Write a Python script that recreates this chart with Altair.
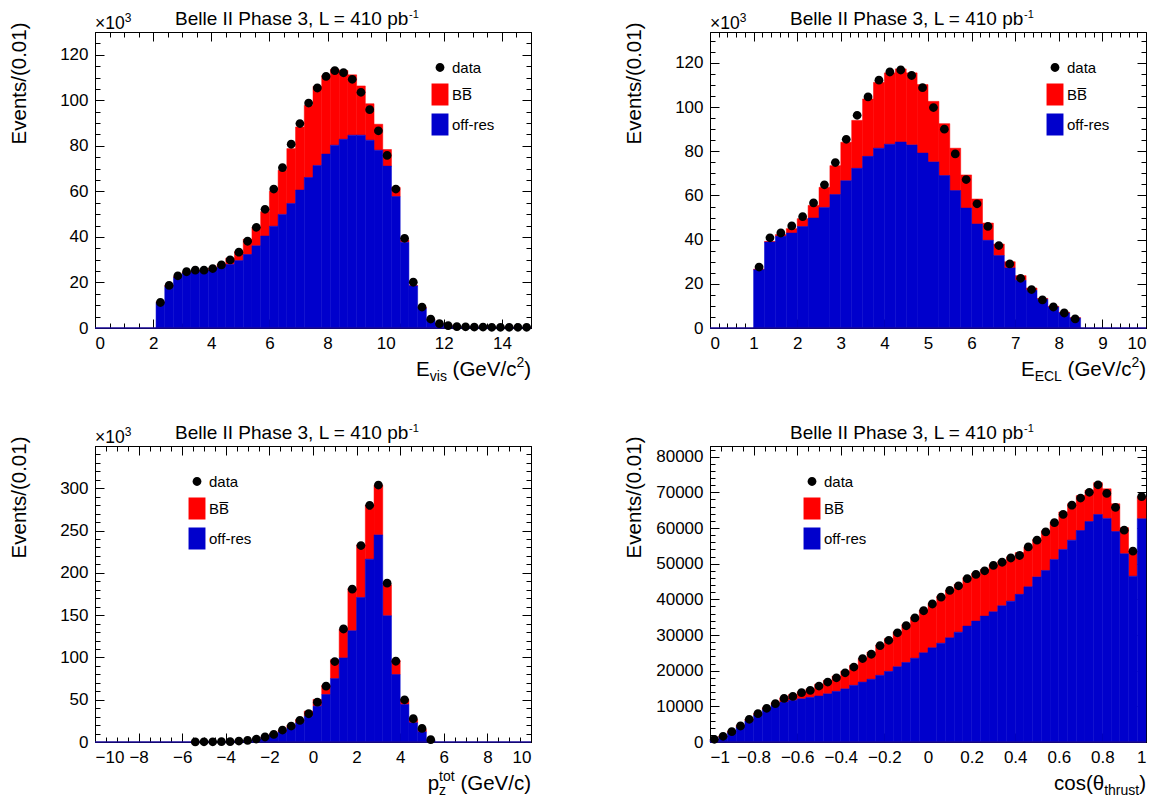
import altair as alt
import pandas as pd

FONT = "Liberation Sans"
RED = "#ff0000"
BLUE = "#0000cc"
SERIES = ["data", "BB\u0305", "off-res"]
TITLE_MAIN = "Belle II Phase 3, L = 410 pb"
TITLE_SUP = "-1"
Y_TITLE = "Events/(0.01)"
X10_MAIN = "\u00d710"
X10_SUP = "3"

# ---------------- Panel 1 : E_vis (x10^3 events), bin width 0.3 ----------------
evis_lo = [2.1, 2.4, 2.7, 3.0, 3.3, 3.6, 3.9, 4.2, 4.5, 4.8, 5.1, 5.4, 5.7, 6.0, 6.3, 6.6, 6.9,
           7.2, 7.5, 7.8, 8.1, 8.4, 8.7, 9.0, 9.3, 9.6, 9.9, 10.2, 10.5, 10.8, 11.1, 11.4, 11.7,
           12.0, 12.3, 12.6, 12.9, 13.2, 13.5, 13.8, 14.1, 14.4, 14.7]
evis_offres = [11.2, 18.2, 22.2, 24.1, 24.7, 25.0, 25.5, 26.7, 27.9, 29.6, 32.3, 36.1, 40.4, 44.7,
               49.9, 54.7, 60.6, 66.1, 71.4, 76.4, 80.3, 82.9, 84.7, 84.7, 82.5, 78.1, 71.1, 57.7,
               37.7, 18.5, 8.8, 3.6, 1.8, 0.9, 0.5, 0.4, 0.3, 0.3, 0.3, 0.2, 0.2, 0.2, 0.2]
evis_bb = [0.3, 0.5, 0.4, 0.4, 0.4, 0.5, 0.8, 1.3, 2.8, 4.0, 6.7, 8.1, 10.7, 15.4, 19.4, 24.1,
           27.7, 31.7, 34.7, 34.5, 33.3, 30.2, 26.5, 21.6, 16.0, 11.4, 7.3, 4.1, 1.0, 0.2, 0.3,
           0.2, 0.1, 0.1, 0.1, 0.1, 0.1, 0.1, 0.0, 0.1, 0.1, 0.1, 0.1]
evis_data = [11.2, 18.7, 22.9, 24.7, 25.4, 25.4, 26.1, 27.7, 29.9, 33.3, 38.1, 44.2, 52.1, 61.0,
             70.4, 80.7, 89.8, 98.8, 105.4, 110.5, 113.0, 112.1, 109.2, 103.5, 95.9, 86.6, 75.8,
             61.0, 39.4, 20.1, 9.2, 3.9, 1.9, 1.0, 0.6, 0.5, 0.4, 0.4, 0.3, 0.3, 0.3, 0.3, 0.3]

# ---------------- Panel 2 : E_ECL (x10^3 events), bin width 0.25 ----------------
eecl_lo = [1.0, 1.25, 1.5, 1.75, 2.0, 2.25, 2.5, 2.75, 3.0, 3.25, 3.5, 3.75, 4.0, 4.25, 4.5,
           4.75, 5.0, 5.25, 5.5, 5.75, 6.0, 6.25, 6.5, 6.75, 7.0, 7.25, 7.5, 7.75, 8.0, 8.25]
eecl_offres = [26.4, 38.9, 41.5, 43.0, 45.9, 49.8, 54.6, 60.4, 66.7, 72.3, 77.7, 81.4, 83.2, 84.2,
               82.9, 79.2, 75.2, 69.0, 62.2, 54.3, 47.1, 39.7, 32.8, 27.2, 21.6, 17.1, 13.0, 9.5,
               6.8, 4.5]
eecl_bb = [0.3, 0.3, 0.8, 2.0, 3.6, 5.7, 9.1, 13.1, 17.4, 21.7, 26.0, 29.8, 32.3, 33.1, 32.6, 31.0,
           27.4, 23.5, 19.2, 15.0, 11.3, 7.8, 5.2, 2.8, 2.1, 1.0, 0.4, 0.3, 0.3, 0.2]
eecl_data = [27.6, 40.8, 43.0, 46.2, 50.4, 56.6, 64.8, 74.9, 85.4, 96.3, 104.6, 112.2, 115.9, 116.8,
             114.3, 108.8, 99.8, 90.0, 78.8, 67.2, 56.2, 46.0, 37.3, 29.0, 22.5, 17.4, 12.7, 9.5,
             6.8, 4.1]

# ---------------- Panel 3 : p_z^tot (x10^3 events), bin width 0.4 ----------------
pz_lo = [-5.6, -5.2, -4.8, -4.4, -4.0, -3.6, -3.2, -2.8, -2.4, -2.0, -1.6, -1.2, -0.8, -0.4, 0.0,
         0.4, 0.8, 1.2, 1.6, 2.0, 2.4, 2.8, 3.2, 3.6, 4.0, 4.4, 4.8, 5.2]
pz_offres = [0.2, 0.2, 0.3, 0.4, 0.6, 1.0, 1.8, 3.2, 5.3, 8.2, 11.8, 16.9, 22.8, 30.6, 42.4, 56.2,
             75.0, 99.4, 131.6, 170.9, 216.2, 244.9, 149.3, 79.8, 44.4, 22.8, 12.1, 1.9]
pz_bb = [0.0, 0.0, 0.0, 0.0, 0.0, 0.1, 0.1, 0.3, 0.6, 0.8, 2.3, 2.7, 3.9, 5.9, 8.0, 11.0, 22.4,
         34.2, 50.0, 62.2, 64.0, 58.9, 36.6, 16.8, 5.9, 3.9, 2.8, 0.1]
pz_data = [0.1, 0.2, 0.2, 0.4, 0.4, 1.1, 1.9, 3.5, 5.9, 9.0, 14.1, 18.8, 25.5, 33.4, 47.1, 66.0,
           95.1, 133.6, 180.7, 232.3, 279.8, 303.8, 187.8, 95.5, 49.9, 27.5, 16.1, 2.7]

# ---------------- Panel 4 : cos(theta_thrust) (events), bin width 0.04 ----------------
cth_lo = [-1.0, -0.96, -0.92, -0.88, -0.84, -0.8, -0.76, -0.72, -0.68, -0.64, -0.6, -0.56, -0.52,
          -0.48, -0.44, -0.4, -0.36, -0.32, -0.28, -0.24, -0.2, -0.16, -0.12, -0.08, -0.04, 0.0,
          0.04, 0.08, 0.12, 0.16, 0.2, 0.24, 0.28, 0.32, 0.36, 0.4, 0.44, 0.48, 0.52, 0.56, 0.6,
          0.64, 0.68, 0.72, 0.76, 0.8, 0.84, 0.88, 0.92, 0.96]
cth_offres = [550, 1400, 2600, 4200, 5900, 7600, 9100, 10400, 11200, 11700, 12100, 12500, 12900,
              13500, 14200, 14900, 15900, 16800, 17600, 18700, 19800, 21100, 22300, 23500, 25000,
              26400, 27700, 29200, 30800, 32500, 33900, 35300, 36500, 38200, 39500, 41400, 43500,
              46300, 48100, 51200, 54000, 56600, 59300, 61800, 63800, 62700, 59000, 52800, 46500,
              62600]
cth_bb = [190, 300, 500, 500, 400, 400, 500, 600, 1200, 1600, 2000, 2400, 3300, 3800, 4300, 5000,
          5600, 6600, 7600, 8500, 9200, 9800, 10600, 11500, 12000, 12500, 13200, 13400, 13400,
          13600, 13400, 13100, 13200, 12500, 12400, 11700, 11200, 10500, 11100, 10500, 10500,
          10200, 9800, 8800, 8900, 8300, 7800, 7300, 7000, 6200]
cth_data = [740, 1580, 2890, 4480, 6350, 7930, 9430, 10740, 12230, 12790, 13820, 14470, 15690,
            16800, 18000, 19400, 21000, 23400, 24600, 27000, 28500, 30600, 32600, 34800, 36800,
            38700, 40600, 42500, 43800, 45800, 47000, 48000, 49500, 50400, 51600, 52300, 54700,
            56600, 58900, 61500, 63800, 66400, 68400, 70000, 72100, 69700, 65800, 59400, 53500,
            68800]

# ---------------- styling helpers ----------------
W, H = 436, 296
TBIG = 19          # pad title
ABIG, ASMALL = 20.5, 14   # axis titles
LBL = 17           # tick labels
BOX = "M-0.77,-1L0.77,-1L0.77,1L-0.77,1Z"
DOT = "M0.4,0A0.4,0.4 0 1,1 -0.4,0A0.4,0.4 0 1,1 0.4,0Z"
ONE = pd.DataFrame({"k": [0]})

AW = {' ': 278, '(': 333, ')': 333, '/': 278, '-': 333, ',': 278, '=': 584, '.': 278,
      '\u00d7': 584, '0': 556, '1': 556, '2': 556, '3': 556, '4': 556, 'B': 667, 'C': 722,
      'E': 667, 'G': 778, 'I': 278, 'L': 556, 'P': 667, 'V': 667, 'a': 556, 'b': 556, 'c': 500,
      'e': 556, 'h': 556, 'i': 222, 'l': 222, 'o': 556, 'p': 556, 'r': 333, 's': 500, 't': 278,
      'u': 556, 'v': 500, 'z': 500, '\u03b8': 556}


def tw(s, size):
    return sum(AW.get(ch, 556) for ch in s) * size / 1000.0


def rich_text(pieces, x, y, anchor="right"):
    """pieces: (text, fontsize, dy, advances). Leading spaces become horizontal gaps."""
    total = sum(tw(t, s) for t, s, dy, adv in pieces if adv)
    start = x - total if anchor == "right" else (x - total / 2 if anchor == "center" else x)
    layers = []
    cur = start
    for t, s, dy, adv in pieces:
        stripped = t.lstrip(" ")
        gap = tw(t[:len(t) - len(stripped)], s)
        layers.append(
            alt.Chart(ONE).mark_text(text=stripped, fontSize=s, font=FONT, color="black",
                                     align="left", baseline="alphabetic")
            .encode(x=alt.value(cur + gap), y=alt.value(y + dy)))
        if adv:
            cur += tw(t, s)
    return layers


def steps(lo, hi, step):
    n = int(round((hi - lo) / step))
    return [round(lo + i * step, 6) for i in range(n + 1)]


def main_axis(orient, values, fmt=None, title=None, label_expr=None, **kw):
    args = dict(orient=orient, values=values, offset=-9, tickSize=9, tickWidth=1,
                tickColor="black", domain=False, grid=False, labelFont=FONT, labelFontSize=LBL,
                labelColor="black", labelOverlap=False, labelPadding=7, title=title)
    if fmt:
        args["format"] = fmt
    if label_expr:
        args["labelExpr"] = label_expr
    args.update(kw)
    return alt.Axis(**args)


def tick_axis(orient, values, size):
    return alt.Axis(orient=orient, values=values, offset=-size, tickSize=size, tickWidth=1,
                    tickColor="black", labels=False, domain=False, grid=False, title=None)


def panel(lo, width, offres, bb, data, xdom, ydom, xmaj, xmin_, ymaj, ymin_, xfmt, yfmt,
          xtitle, legend_x, show_x10, xlabel_expr=None):
    df = pd.DataFrame({"lo": lo, "offres": offres, "bb": bb, "data": data})
    base = alt.Chart(df).transform_calculate(
        hi="datum.lo + %r" % width, mid="datum.lo + %r" % (width / 2.0),
        top="datum.offres + datum.bb", zero="0")
    xs = alt.Scale(domain=xdom, nice=False, zero=False)
    ys = alt.Scale(domain=ydom, nice=False, zero=False)
    leg = alt.Legend(orient="none", legendX=legend_x, legendY=24.5, title=None, labelFont=FONT,
                     labelFontSize=15, labelColor="black", padding=0, rowPadding=8,
                     labelOffset=1, symbolSize=484, symbolStrokeWidth=0, labelLimit=0)
    color = alt.Color("series:N", scale=alt.Scale(domain=SERIES, range=["black", RED, BLUE]),
                      legend=leg)
    shape = alt.Shape("series:N", scale=alt.Scale(domain=SERIES, range=[DOT, BOX, BOX]),
                      legend=leg)

    red = base.transform_calculate(series="'%s'" % SERIES[1]).mark_rect(
        stroke=RED, strokeWidth=0.5).encode(
        x=alt.X("lo:Q", scale=xs, axis=main_axis("bottom", xmaj, xfmt, label_expr=xlabel_expr)),
        x2="hi:Q",
        y=alt.Y("top:Q", scale=ys,
                axis=main_axis("left", ymaj, yfmt, title=Y_TITLE, titleX=-85, titleY=-10,
                               titleAngle=-90, titleAlign="right", titleBaseline="middle",
                               titleFont=FONT, titleFontSize=ABIG, titleFontWeight="normal",
                               titleColor="black")),
        y2="offres:Q", color=color)
    blue = base.transform_calculate(series="'%s'" % SERIES[2]).mark_rect(
        stroke=BLUE, strokeWidth=0.5).encode(
        x=alt.X("lo:Q", scale=xs, axis=tick_axis("bottom", xmin_, 5)),
        x2="hi:Q",
        y=alt.Y("offres:Q", scale=ys, axis=tick_axis("left", ymin_, 5)),
        y2="zero:Q", color=color)
    pts = base.transform_calculate(series="'%s'" % SERIES[0]).mark_point(
        filled=True, opacity=1, size=484, strokeWidth=0).encode(
        x=alt.X("mid:Q", scale=xs, axis=tick_axis("top", xmaj, 9)),
        y=alt.Y("data:Q", scale=ys, axis=tick_axis("right", ymaj, 9)),
        color=color, shape=shape)
    dummy = base.mark_point(opacity=0).encode(
        x=alt.X("mid:Q", scale=xs, axis=tick_axis("top", xmin_, 5)),
        y=alt.Y("data:Q", scale=ys, axis=tick_axis("right", ymin_, 5)))
    zero_line = alt.Chart(ONE).mark_rule(color="#1a0a99", strokeWidth=1.5).encode(
        x=alt.X(datum=xdom[0], scale=xs, axis=None), x2=alt.X2(datum=xdom[1]),
        y=alt.Y(datum=0, scale=ys, axis=None))

    layers = [red, blue, zero_line, pts, dummy]
    layers += rich_text([(TITLE_MAIN, TBIG, 0, True), (TITLE_SUP, 11, -7.5, True)], 80, -6.6,
                        "left")
    if show_x10:
        layers += rich_text([(X10_MAIN, 17.5, 0, True), (X10_SUP, 12, -7, True)], 0, -3,
                            "left")
    layers += rich_text(xtitle, W, H + 48, "right")
    return alt.layer(*layers).resolve_axis(x="independent", y="independent").properties(
        width=W, height=H)


p1 = panel(evis_lo, 0.3, evis_offres, evis_bb, evis_data, [0, 15], [0, 130],
           steps(0, 14, 2), steps(0, 15, 0.5), steps(0, 120, 20), steps(0, 130, 5), "d", "d",
           [("E", ABIG, 0, True), ("vis", ASMALL, 5, True), (" (GeV/c", ABIG, 0, True),
            ("2", ASMALL, -9, True), (")", ABIG, 0, True)], 334, True)
p2 = panel(eecl_lo, 0.25, eecl_offres, eecl_bb, eecl_data, [0, 10], [0, 134],
           steps(0, 10, 1), steps(0, 10, 0.2), steps(0, 120, 20), steps(0, 130, 5), "d", "d",
           [("E", ABIG, 0, True), ("ECL", ASMALL, 5, True), (" (GeV/c", ABIG, 0, True),
            ("2", ASMALL, -9, True), (")", ABIG, 0, True)], 334, True)
p3 = panel(pz_lo, 0.4, pz_offres, pz_bb, pz_data, [-10, 10], [0, 350],
           steps(-10, 10, 2), steps(-10, 10, 0.5), steps(0, 300, 50), steps(0, 350, 10), "d", "d",
           [("p", ABIG, 0, True), ("z", ASMALL, 5, False), ("tot", ASMALL, -9, True),
            (" (GeV/c)", ABIG, 0, True)], 91, True)
p4 = panel(cth_lo, 0.04, cth_offres, cth_bb, cth_data, [-1, 1], [0, 83000],
           steps(-1, 1, 0.2), steps(-1, 1, 0.05), steps(0, 80000, 10000), steps(0, 82000, 2000),
           None, "d",
           [("cos(\u03b8", ABIG, 0, True), ("thrust", ASMALL, 5, True), (")", ABIG, 0, True)], 91,
           False, xlabel_expr="format(datum.value, '.1~f')")

chart = alt.concat(p1, p2, p3, p4, columns=2, spacing={"row": 118, "column": 179},
                   bounds="flush").resolve_scale(
    x="independent", y="independent", color="independent", shape="independent"
).properties(padding={"left": 0, "top": 0, "right": 5, "bottom": 5}).configure(
    font=FONT, background="white"
).configure_view(stroke="black", strokeWidth=1)

chart.save("out.html", embed_options={"renderer": "svg", "actions": False})
